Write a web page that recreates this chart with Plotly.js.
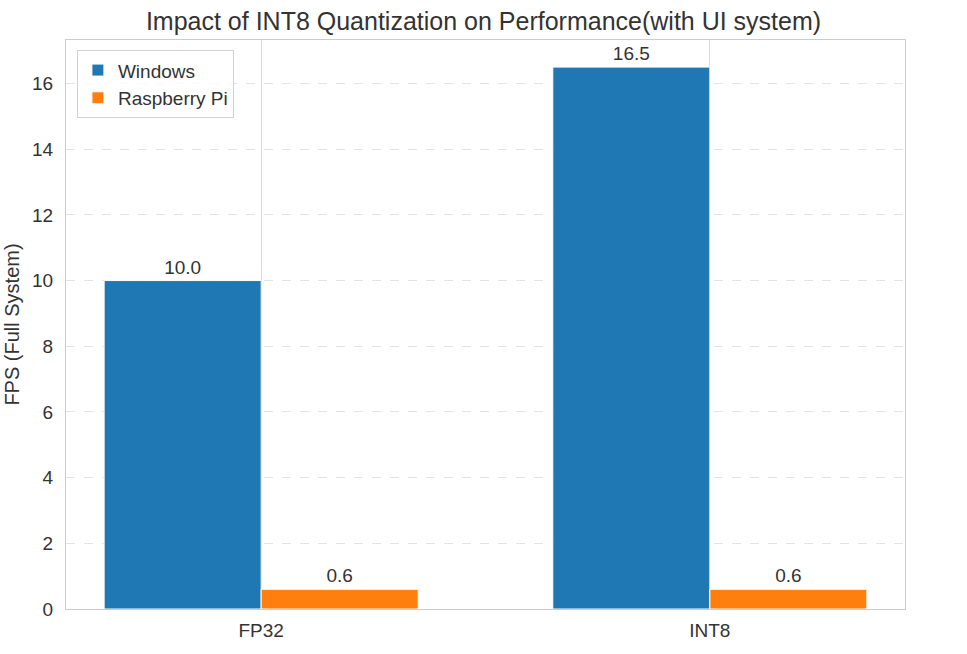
<!DOCTYPE html>
<html>
<head>
<meta charset="utf-8">
<script src="https://cdn.plot.ly/plotly-3.0.1.min.js"></script>
<style>html,body{margin:0;padding:0;background:#fff;}#chart{width:967px;height:654px;}</style>
</head>
<body>
<div id="chart"></div>
<script>
const categories = ["FP32", "INT8"];
const windowsFps = [10.0, 16.5];
const raspberryFps = [0.6, 0.6];
const yTicks = [0, 2, 4, 6, 8, 10, 12, 14, 16];

const FONT = "Liberation Sans, Arial, sans-serif";
const TXT = "#333333";

const common = {
  type: "bar",
  x: categories,
  texttemplate: "%{y:.1f}",
  textposition: "outside",
  constraintext: "none",
  cliponaxis: false,
  textfont: {family: FONT, size: 19, color: TXT},
  hoverinfo: "skip"
};

const traces = [
  Object.assign({}, common, {name: "Windows", y: windowsFps, marker: {color: "#1f77b4", line: {color: "#ffffff", width: 1}}}),
  Object.assign({}, common, {name: "Raspberry Pi", y: raspberryFps, marker: {color: "#ff7f0e", line: {color: "#ffffff", width: 1}}})
];

const layout = {
  width: 967, height: 654,
  margin: {l: 66, r: 62, t: 40, b: 45, pad: 0},
  paper_bgcolor: "#ffffff", plot_bgcolor: "#ffffff",
  font: {family: FONT, color: TXT, size: 19},
  title: {text: "Impact of INT8 Quantization on Performance(with UI system)", font: {family: FONT, size: 25, color: TXT}, x: 0.5, xanchor: "center", y: 0.968, yanchor: "middle"},
  barmode: "group", bargap: 0.3, bargroupgap: 0,
  showlegend: true,
  legend: {x: 0.013, y: 0.982, xanchor: "left", yanchor: "top", bgcolor: "rgba(255,255,255,0.8)", bordercolor: "#d0d0d0", borderwidth: 1, font: {family: FONT, size: 19, color: TXT}},
  xaxis: {
    type: "category", range: [-0.435, 1.435],
    showgrid: true, gridcolor: "#dcdcdc", gridwidth: 1,
    showline: true, linecolor: "#cccccc", linewidth: 1, mirror: true,
    ticks: "", ticklabelstandoff: 4, tickfont: {family: FONT, size: 19, color: TXT},
    zeroline: false, fixedrange: true
  },
  yaxis: {
    range: [0, 17.325], tickvals: yTicks,
    showgrid: true, gridcolor: "#e3e3e3", gridwidth: 1, griddash: "dash",
    showline: true, linecolor: "#cccccc", linewidth: 1, mirror: true,
    ticks: "", ticklabelstandoff: 8, tickfont: {family: FONT, size: 19, color: TXT},
    zeroline: false, fixedrange: true,
    title: {text: "FPS (Full System)", font: {family: FONT, size: 20, color: TXT}, standoff: 7}
  }
};

Plotly.newPlot("chart", traces, layout, {staticPlot: true, displayModeBar: false});
</script>
</body>
</html>
